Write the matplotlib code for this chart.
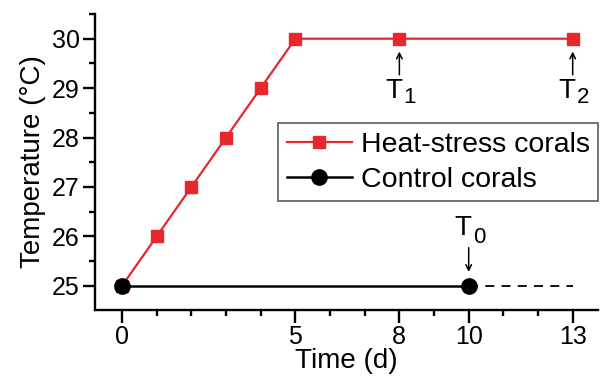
import matplotlib
matplotlib.use("Agg")
import matplotlib.pyplot as plt
from matplotlib.ticker import FixedLocator, MultipleLocator

plt.rcParams['font.family'] = ['Liberation Sans', 'DejaVu Sans']

heat_days = [0, 1, 2, 3, 4, 5, 8, 13]
heat_temp = [25, 26, 27, 28, 29, 30, 30, 30]
ctrl_days = [0, 10]
ctrl_temp = [25, 25]
ctrl_ext_days = [10, 13]
ctrl_ext_temp = [25, 25]
x_major = [0, 5, 8, 10, 13]
x_minor = [1, 2, 3, 4, 6, 7, 9, 11, 12]
y_major = [25, 26, 27, 28, 29, 30]

fig = plt.figure(figsize=(6.01, 3.78), dpi=100)
ax = fig.add_axes([95/601, 1-310/378, (598-95)/601, (310-14)/378])

red = '#e8262d'
ax.plot(heat_days, heat_temp, color=red, lw=1.6, marker='s', ms=9, label='Heat-stress corals', zorder=3)
ax.plot(ctrl_days, ctrl_temp, color='black', lw=1.8, marker='o', ms=11, label='Control corals', zorder=4)
ax.plot(ctrl_ext_days, ctrl_ext_temp, color='black', lw=1.3, ls=(0, (5, 4)), zorder=2)

ax.set_xlim(-0.78, 13.73)
ax.set_ylim(24.51, 30.5)
ax.spines['top'].set_visible(False)
ax.spines['right'].set_visible(False)
for s in ['left', 'bottom']:
    ax.spines[s].set_linewidth(1.7)
ax.xaxis.set_major_locator(FixedLocator(x_major))
ax.xaxis.set_minor_locator(FixedLocator(x_minor))
ax.yaxis.set_major_locator(FixedLocator(y_major))
ax.yaxis.set_minor_locator(MultipleLocator(0.5))
ax.tick_params(which='major', length=9, width=1.7, labelsize=18, direction='out', pad=2)
ax.tick_params(which='minor', length=4.5, width=1.7, direction='out')
ax.set_xlabel('Time (d)', fontsize=20, labelpad=-1)
ax.set_ylabel('Temperature (°C)', fontsize=20, labelpad=4)

leg = ax.legend(loc='upper left', bbox_to_anchor=((278-95)/503, 1-(123-14)/296),
                fontsize=20.5, frameon=True, fancybox=False, edgecolor='#333333',
                handlelength=2.3, borderpad=0.3, labelspacing=0.32, handletextpad=0.3,
                borderaxespad=0)
leg.get_frame().set_linewidth(1.2)

arrow = dict(arrowstyle='->', color='black', lw=1.1, shrinkA=0, shrinkB=0)


def tlabel(x, y, sub, va):
    if va == 'top':
        dy_t, dy_s = 0, -9
    else:
        dy_t, dy_s = 7, 0
    ax.annotate('T', xy=(x, y), xytext=(3, dy_t), textcoords='offset pixels',
                ha='right', va=va, fontsize=20)
    ax.annotate(sub, xy=(x, y), xytext=(4, dy_s), textcoords='offset pixels',
                ha='left', va=va, fontsize=16)


for xd, sub in [(8, '1'), (13, '2')]:
    ax.annotate('', xy=(xd, 29.74), xytext=(xd, 29.27), arrowprops=arrow)
    tlabel(xd, 29.2, sub, 'top')
ax.annotate('', xy=(10, 25.28), xytext=(10, 25.77), arrowprops=arrow)
tlabel(10, 25.76, '0', 'bottom')

fig.savefig('out.png', dpi=100)
